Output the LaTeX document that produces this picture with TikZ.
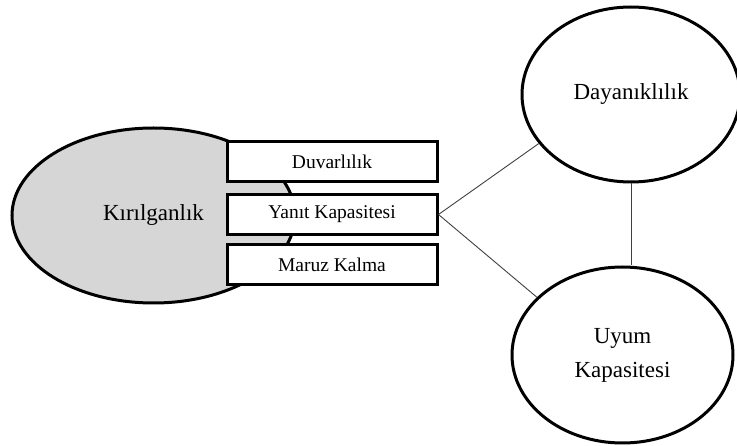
\documentclass[tikz,border=0pt]{standalone}
\usepackage{fontspec}
\setmainfont{Liberation Serif}
\usetikzlibrary{shapes.geometric}
\begin{document}
\begin{tikzpicture}[x=1pt,y=-1pt,
  blob/.style={ellipse,draw=black,line width=3pt,inner sep=0pt},
  facet/.style={rectangle,draw=black,fill=white,line width=3pt,
    minimum width=210pt,minimum height=40pt,inner sep=0pt,
    font=\fontsize{19.5}{22}\selectfont},
  big/.style={font=\fontsize{23}{34}\selectfont},
  link/.style={draw=black!75,line width=0.9pt}]
\useasboundingbox (0,0) rectangle (737,446);

% the main concept and its three components
\node[blob,big,fill=black!16,minimum width=283pt,minimum height=175pt]
  (K) at (153.5,215.5) {Kırılganlık};
\node[facet] (Dv) at (332,162) {Duvarlılık};
\node[facet] (Yk) at (332,214.5) {Yanıt Kapasitesi};
\node[facet] (Mk) at (332,264.5) {Maruz Kalma};

% related concepts
\node[blob,big,fill=white,minimum width=218pt,minimum height=175pt]
  (D) at (631,94.5) {Dayanıklılık};
\node[blob,big,fill=white,minimum width=221pt,minimum height=176pt,
  align=center] (U) at (622.5,355) {Uyum\\Kapasitesi};

% connections
\draw[link] (Yk.east) -- (D.208);
\draw[link] (Yk.east) -- (U.146);
\draw[link] (D.south) -- (D.south |- U.north);
\end{tikzpicture}
\end{document}
